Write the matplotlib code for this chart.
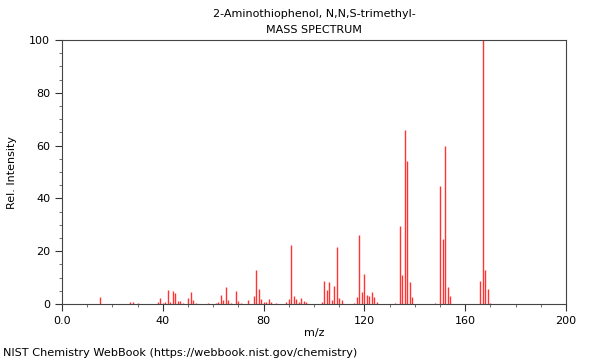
import matplotlib
matplotlib.use("Agg")
import matplotlib.pyplot as plt
from matplotlib.ticker import MultipleLocator, FixedLocator

mz = [15, 27, 28, 30, 38, 39, 40, 41, 42, 43, 44, 45, 46, 47, 48, 50, 51, 52, 53,
      58, 61, 62, 63, 64, 65, 66, 67, 69, 70, 71, 74, 76, 77, 78, 79, 80, 81, 82, 83, 85,
      89, 90, 91, 92, 93, 94, 95, 96, 97, 103, 104, 105, 106, 107, 108, 109, 110, 111,
      116, 117, 118, 119, 120, 121, 122, 123, 124, 125, 132, 134, 135, 136, 137, 138, 139,
      148, 150, 151, 152, 153, 154, 166, 167, 168, 169, 170]
intensity = [2.5, 0.6, 0.6, 0.5, 0.6, 2.4, 0.3, 0.9, 5.2, 0.8, 5.0, 4.2, 1.0, 1.3, 0.4, 2.4, 4.7, 1.4, 0.4,
             0.5, 0.4, 0.8, 3.5, 1.5, 6.6, 1.5, 0.5, 4.8, 1.3, 0.5, 1.6, 3.2, 13.0, 5.8, 2.0, 0.6, 0.9, 2.0, 0.9, 0.3,
             0.8, 1.8, 22.5, 2.9, 1.8, 0.8, 2.3, 1.3, 0.6, 0.9, 8.8, 5.3, 8.2, 1.6, 6.8, 21.5, 2.3, 1.6,
             0.5, 2.8, 26.1, 4.7, 11.5, 3.5, 3.1, 4.4, 2.8, 0.9, 0.4, 29.7, 11.0, 66.0, 54.0, 8.5, 2.7,
             0.3, 44.8, 24.6, 60.0, 6.6, 2.9, 8.8, 100.0, 12.8, 5.8, 0.5]

title_lines = ["2-Aminothiophenol, N,N,S-trimethyl-", "MASS SPECTRUM"]
x_major = [0, 40, 80, 120, 160, 200]
x_labels = ["0.0", "40", "80", "120", "160", "200"]
y_major = [0, 20, 40, 60, 80, 100]

fig = plt.figure(figsize=(6, 3.6), dpi=100)
ax = fig.add_axes([62/600, 1-304/360, 504/600, 264/360])
ax.vlines(mz, 0, intensity, colors="#ff3333", linewidth=1.0)
ax.set_xlim(0, 200)
ax.set_ylim(0, 100)
ax.xaxis.set_major_locator(FixedLocator(x_major))
ax.set_xticklabels(x_labels)
ax.xaxis.set_minor_locator(MultipleLocator(10))
ax.yaxis.set_major_locator(FixedLocator(y_major))
ax.yaxis.set_minor_locator(MultipleLocator(5))
ax.tick_params(axis="both", which="major", direction="out", length=5, width=0.8,
               labelsize=8, colors="#333333", labelcolor="black")
ax.tick_params(axis="both", which="minor", direction="out", length=2.5, width=0.6, colors="#555555")
for s in ax.spines.values():
    s.set_color("#444444")
    s.set_linewidth(0.8)
fig.text(314/600, 1-333/360, "m/z", ha="center", va="center", fontsize=8)
fig.text(12/600, 1-172/360, "Rel. Intensity", ha="center", va="center", rotation=90, fontsize=8)
fig.text(314/600, 1-14/360, title_lines[0], ha="center", va="center", fontsize=8)
fig.text(314/600, 1-30/360, title_lines[1], ha="center", va="center", fontsize=8)
fig.text(3/600, 1-353/360, "NIST Chemistry WebBook (https://webbook.nist.gov/chemistry)",
         ha="left", va="center", fontsize=8.15)
fig.savefig("out.png", dpi=100)
